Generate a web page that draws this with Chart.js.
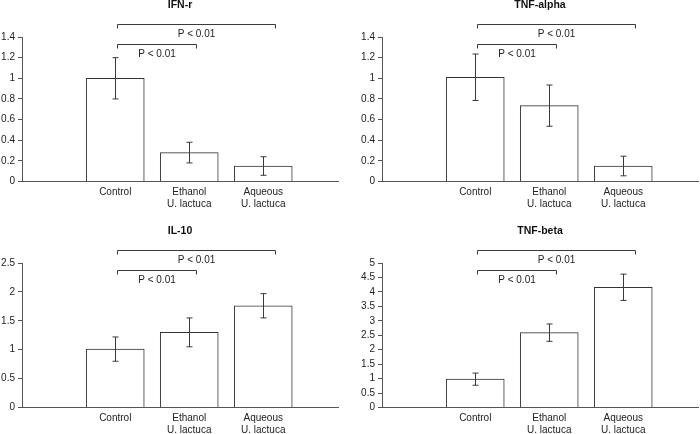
<!DOCTYPE html>
<html>
<head>
<meta charset="utf-8">
<script src="https://cdn.jsdelivr.net/npm/chart.js@4"></script>
<style>
  html, body { margin: 0; padding: 0; background: #fff; overflow: hidden; }
  body { width: 700px; height: 434px; position: relative; }
  .panel { position: absolute; width: 340px; height: 217px; }
</style>
</head>
<body>
<div class="panel" style="left:0;top:0"><canvas id="c1"></canvas></div>
<div class="panel" style="left:360px;top:0"><canvas id="c2"></canvas></div>
<div class="panel" style="left:0;top:226px"><canvas id="c3"></canvas></div>
<div class="panel" style="left:360px;top:226px"><canvas id="c4"></canvas></div>
<script>
// groups on the x axis
const categories = ['Control', ['Ethanol', 'U. lactuca'], ['Aqueous', 'U. lactuca']];

// means and error (+/-) per panel
const ifnMean = [1.00, 0.28, 0.15];
const ifnErr = [0.20, 0.10, 0.09];
const tnfaMean = [1.01, 0.735, 0.15];
const tnfaErr = [0.225, 0.20, 0.095];
const il10Mean = [1.01, 1.30, 1.76];
const il10Err = [0.21, 0.25, 0.21];
const tnfbMean = [0.98, 2.59, 4.16];
const tnfbErr = [0.21, 0.30, 0.455];

// y tick labels
const ticksSmall = [0, 0.2, 0.4, 0.6, 0.8, 1, 1.2, 1.4];
const ticksIL10 = [0, 0.5, 1, 1.5, 2, 2.5];
const ticksTNFb = [0, 0.5, 1, 1.5, 2, 2.5, 3, 3.5, 4, 4.5, 5];

// significance brackets: from group, to group, label
const brackets = [
  { from: 0, to: 2, label: 'P < 0.01' },
  { from: 0, to: 1, label: 'P < 0.01' }
];

const FONT = "'Liberation Sans', Arial, Helvetica, sans-serif";
Chart.defaults.font.family = FONT;
Chart.defaults.font.size = 10;
Chart.defaults.color = '#222';

const extras = {
  id: 'panelExtras',
  afterDatasetsDraw(chart, args, opts) {
    const { ctx, chartArea } = chart;
    const x = chart.scales.x, y = chart.scales.y;
    ctx.save();
    ctx.strokeStyle = '#3a3a3a';
    ctx.lineWidth = 1;

    // error bars
    opts.mean.forEach((m, i) => {
      const px = Math.round(x.getPixelForValue(i + 1)) + 0.5;
      const top = y.getPixelForValue(m + opts.err[i]);
      const bot = y.getPixelForValue(m - opts.err[i]);
      ctx.beginPath();
      ctx.moveTo(px, top); ctx.lineTo(px, bot);
      ctx.moveTo(px - 3, top); ctx.lineTo(px + 3, top);
      ctx.moveTo(px - 3, bot); ctx.lineTo(px + 3, bot);
      ctx.stroke();
    });

    // brackets with p-values
    const rows = [
      { line: chartArea.top - 13.5, text: chartArea.top - 2.5, right: 0.16 },
      { line: chartArea.top + 6.5, text: chartArea.top + 17.5, right: 0.09 }
    ];
    ctx.fillStyle = '#222';
    ctx.font = '10px ' + FONT;
    ctx.textAlign = 'center';
    ctx.textBaseline = 'middle';
    brackets.forEach((b, k) => {
      const r = rows[k];
      const x1 = Math.round(x.getPixelForValue(b.from + 1.02)) + 0.5;
      const x2 = Math.round(x.getPixelForValue(b.to + 1 + r.right)) + 0.5;
      const ly = Math.round(r.line) + 0.5;
      ctx.beginPath();
      ctx.moveTo(x1, ly + 4); ctx.lineTo(x1, ly); ctx.lineTo(x2, ly); ctx.lineTo(x2, ly + 4);
      ctx.stroke();
      ctx.fillText(b.label, (x1 + x2) / 2, r.text);
    });

    // panel title
    ctx.font = 'bold 10.5px ' + FONT;
    ctx.fillStyle = '#111';
    ctx.fillText(opts.title, (chartArea.left + chartArea.right) / 2, 5.5);
    ctx.restore();
  }
};

function makePanel(id, title, mean, err, yTicks) {
  new Chart(document.getElementById(id), {
    type: 'bar',
    data: {
      datasets: [{
        data: mean.map((v, i) => ({ x: i + 1, y: v })),
        backgroundColor: '#fff',
        borderColor: '#333',
        borderWidth: 1,
        barThickness: 58
      }]
    },
    options: {
      responsive: false,
      animation: false,
      layout: { padding: { top: 37, right: 2, left: 0, bottom: 0 } },
      scales: {
        x: {
          type: 'linear',
          offset: false,
          bounds: 'data',
          min: -0.26,
          max: 4.01,
          afterBuildTicks: (axis) => { axis.ticks = categories.map((c, i) => ({ value: i + 1 })); },
          afterFit: (axis) => { axis.height = 35.5; },
          grid: { drawOnChartArea: false, drawTicks: false, offset: false },
          border: { color: '#555', width: 1 },
          ticks: {
            padding: 5,
            autoSkip: false,
            maxRotation: 0,
            font: { size: 10, lineHeight: 1.2 },
            callback: (v) => categories[v - 1]
          }
        },
        y: {
          min: yTicks[0],
          max: yTicks[yTicks.length - 1],
          afterBuildTicks: (axis) => { axis.ticks = yTicks.map(v => ({ value: v })); },
          afterFit: (axis) => { axis.width = 22; },
          grid: { drawOnChartArea: false, drawTicks: true, tickLength: 4, color: '#555' },
          border: { color: '#555', width: 1 },
          ticks: {
            padding: 3,
            autoSkip: false,
            font: { size: 10 },
            callback: (v) => String(v)
          }
        }
      },
      plugins: {
        legend: { display: false },
        tooltip: { enabled: false },
        panelExtras: { title: title, mean: mean, err: err }
      }
    },
    plugins: [extras]
  });
}

document.querySelectorAll('canvas').forEach(c => { c.width = 340; c.height = 217; });

makePanel('c1', 'IFN-r', ifnMean, ifnErr, ticksSmall);
makePanel('c2', 'TNF-alpha', tnfaMean, tnfaErr, ticksSmall);
makePanel('c3', 'IL-10', il10Mean, il10Err, ticksIL10);
makePanel('c4', 'TNF-beta', tnfbMean, tnfbErr, ticksTNFb);
</script>
</body>
</html>
